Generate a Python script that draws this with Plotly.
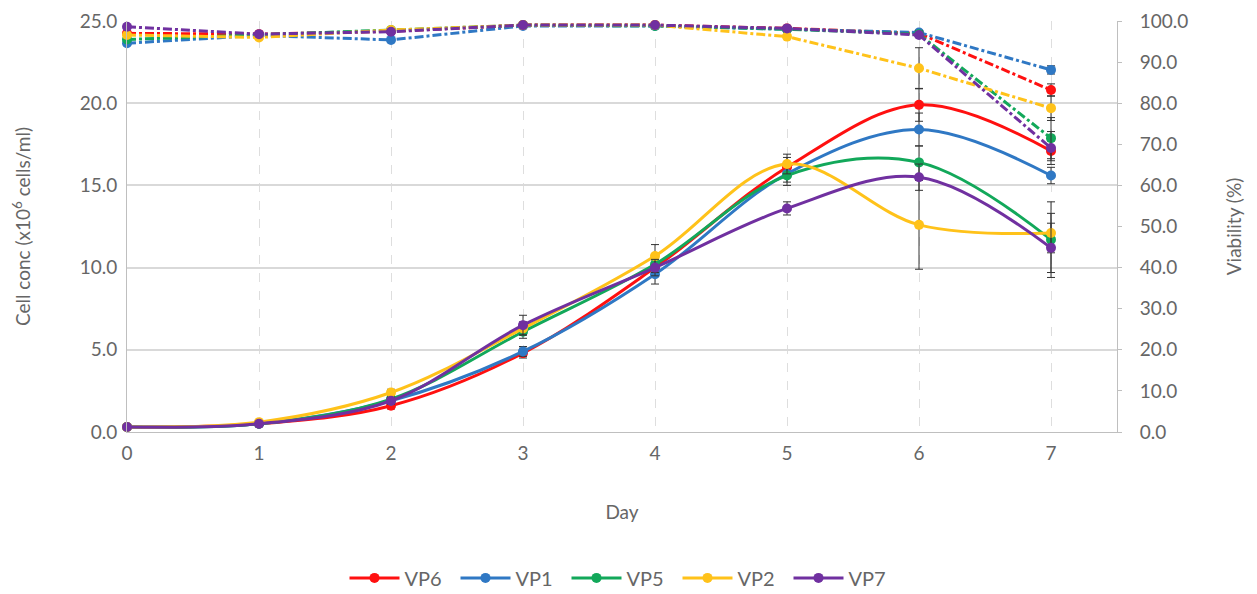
import plotly.graph_objects as go

# Culture day
days = [0, 1, 2, 3, 4, 5, 6, 7]

series_names = ["VP6", "VP1", "VP5", "VP2", "VP7"]
series_colors = ["#ff1010", "#2f78c4", "#12a85a", "#ffc21a", "#7030a0"]

# Viable cell concentration (x10^6 cells/ml)
conc_vp6 = [0.3, 0.5, 1.6, 4.8, 10.0, 16.1, 19.9, 17.1]
conc_vp1 = [0.3, 0.5, 1.9, 4.9, 9.6, 15.7, 18.4, 15.6]
conc_vp5 = [0.3, 0.5, 2.0, 6.1, 10.2, 15.6, 16.4, 11.7]
conc_vp2 = [0.3, 0.6, 2.4, 6.3, 10.7, 16.3, 12.6, 12.1]
conc_vp7 = [0.3, 0.5, 1.9, 6.5, 10.0, 13.6, 15.5, 11.2]

# Standard deviation of cell concentration
conc_sd_vp6 = [0.05, 0.05, 0.2, 0.3, 0.4, 0.6, 1.0, 0.6]
conc_sd_vp1 = [0.05, 0.05, 0.2, 0.3, 0.6, 0.5, 1.0, 0.5]
conc_sd_vp5 = [0.05, 0.05, 0.2, 0.4, 0.5, 0.6, 1.0, 2.3]
conc_sd_vp2 = [0.05, 0.05, 0.2, 0.4, 0.7, 0.6, 2.7, 1.2]
conc_sd_vp7 = [0.05, 0.05, 0.2, 0.6, 0.5, 0.4, 0.8, 1.5]

# Viability (%)
via_vp6 = [97.0, 96.8, 97.5, 99.0, 99.0, 98.2, 97.0, 83.2]
via_vp1 = [94.6, 96.5, 95.4, 98.8, 98.8, 98.0, 97.2, 88.1]
via_vp5 = [95.5, 96.6, 97.8, 99.0, 98.8, 98.0, 96.8, 71.5]
via_vp2 = [96.6, 96.0, 97.8, 99.0, 99.0, 96.2, 88.5, 78.8]
via_vp7 = [98.6, 96.8, 97.4, 99.0, 99.0, 98.2, 96.6, 69.1]

# Standard deviation of viability
via_sd_vp6 = [0.3, 0.3, 0.3, 0.2, 0.2, 0.3, 0.5, 1.5]
via_sd_vp1 = [0.5, 0.3, 0.5, 0.2, 0.2, 0.3, 0.5, 1.0]
via_sd_vp5 = [0.3, 0.3, 0.3, 0.2, 0.2, 0.3, 0.8, 5.0]
via_sd_vp2 = [0.3, 0.3, 0.3, 0.2, 0.2, 0.5, 5.0, 3.0]
via_sd_vp7 = [0.3, 0.3, 0.3, 0.2, 0.2, 0.3, 0.5, 4.0]

conc = [conc_vp6, conc_vp1, conc_vp5, conc_vp2, conc_vp7]
conc_sd = [conc_sd_vp6, conc_sd_vp1, conc_sd_vp5, conc_sd_vp2, conc_sd_vp7]
via = [via_vp6, via_vp1, via_vp5, via_vp2, via_vp7]
via_sd = [via_sd_vp6, via_sd_vp1, via_sd_vp5, via_sd_vp2, via_sd_vp7]

FONT = "Lato"
GREY = "#666666"
FS = 19

fig = go.Figure()

# Viability: dash-dot lines on the secondary axis
for name, color, y, sd in zip(series_names, series_colors, via, via_sd):
    fig.add_trace(go.Scatter(
        x=days, y=y, yaxis="y2", mode="lines+markers", name=name,
        showlegend=False, cliponaxis=False,
        line=dict(color=color, width=3, dash="dashdot"),
        marker=dict(color=color, size=10),
        error_y=dict(type="data", array=sd, visible=True,
                     color="#333333", thickness=1, width=4),
    ))

# Cell concentration: smoothed solid lines on the primary axis
for name, color, y, sd in zip(series_names, series_colors, conc, conc_sd):
    fig.add_trace(go.Scatter(
        x=days, y=y, mode="lines+markers", name=name,
        cliponaxis=False,
        line=dict(color=color, width=3, shape="spline", smoothing=1.0),
        marker=dict(color=color, size=10),
        error_y=dict(type="data", array=sd, visible=True,
                     color="#333333", thickness=1, width=4),
    ))

fig.update_layout(
    width=1257, height=594,
    margin=dict(l=127, r=140, t=21, b=162, autoexpand=False),
    paper_bgcolor="white", plot_bgcolor="white",
    font=dict(family=FONT, size=FS, color=GREY),
    xaxis=dict(
        range=[0, 7.5], tickvals=days, ticktext=[str(d) for d in days],
        showgrid=True, gridcolor="#dedede", griddash="dash", gridwidth=1,
        showline=True, linecolor="#bfbfbf", linewidth=1,
        zeroline=False, ticks="", ticklabelstandoff=4, automargin=False,
        title=dict(text="Day", standoff=42, font=dict(size=FS, color=GREY)),
        tickfont=dict(size=FS, color=GREY),
    ),
    yaxis=dict(
        range=[0, 25], tickvals=[0, 5, 10, 15, 20, 25], tickformat=".1f",
        showgrid=True, gridcolor="#d9d9d9", gridwidth=1.5,
        showline=True, linecolor="#bfbfbf", linewidth=1,
        zeroline=False, ticks="", ticklabelstandoff=5, automargin=False,
        title=dict(text="Cell conc (x10<sup>6</sup> cells/ml)", standoff=44,
                   font=dict(size=FS, color=GREY)),
        tickfont=dict(size=FS, color=GREY),
    ),
    yaxis2=dict(
        range=[0, 100], tickvals=list(range(0, 101, 10)), tickformat=".1f",
        overlaying="y", side="right", showgrid=False, zeroline=False,
        showline=True, linecolor="#bfbfbf", linewidth=1, automargin=False,
        ticks="outside", ticklen=4, tickcolor="#bfbfbf", ticklabelstandoff=14,
        title=dict(text="Viability (%)", standoff=40,
                   font=dict(size=FS, color=GREY)),
        tickfont=dict(size=FS, color=GREY),
    ),
    legend=dict(
        orientation="h", x=0.5, xanchor="center", y=-0.355, yanchor="middle",
        font=dict(size=20, color=GREY), itemwidth=50,
        entrywidth=46, entrywidthmode="pixels",
        bgcolor="rgba(0,0,0,0)",
    ),
)

fig.write_html("out.html")
